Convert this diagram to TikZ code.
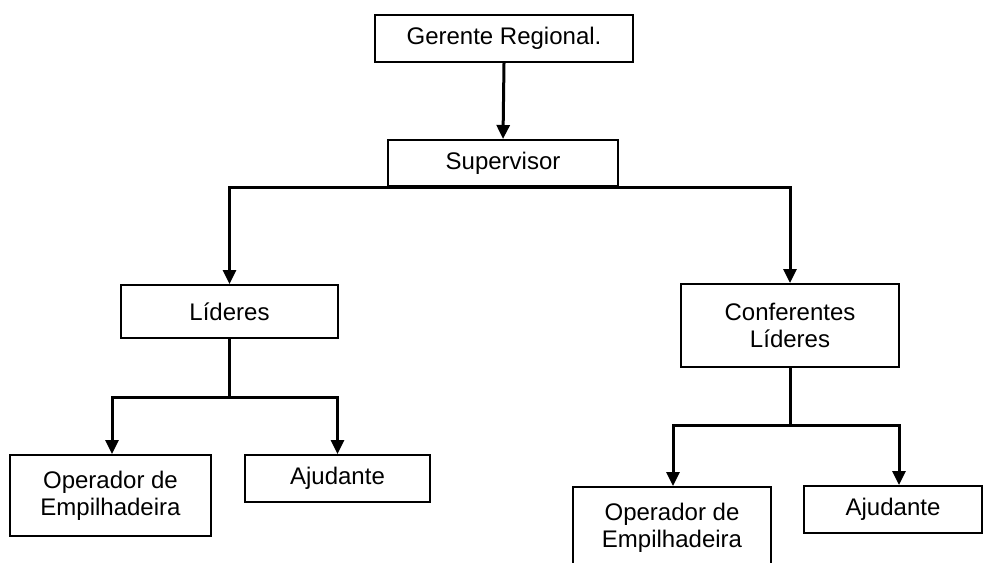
\documentclass[tikz,border=0pt]{standalone}
\usepackage{fontspec}
\setmainfont{Liberation Sans}
\usetikzlibrary{arrows.meta}
\begin{document}
\begin{tikzpicture}[x=0.5pt,y=-0.5pt,
  box/.style={draw=black,line width=1pt,fill=white,align=center,inner sep=0pt,
    font=\fontsize{12pt}{13.5pt}\selectfont},
  link/.style={line width=1.5pt},
  arr/.style={line width=1.5pt,-{Triangle[width=6.5pt,length=7pt]}}]
\clip (0,0) rectangle (984,562);
\fill[white] (0,0) rectangle (984,562);
\node[box,minimum width=129pt,minimum height=23.5pt] (ger) at (504,38.5) {Gerente Regional.};
\node[box,minimum width=115pt,minimum height=23pt] (sup) at (503,163) {Supervisor};
\node[box,minimum width=108.5pt,minimum height=26.5pt] (lid) at (229.5,311.5) {Líderes};
\node[box,minimum width=109pt,minimum height=41.5pt] (conf) at (790,325.5) {Conferentes\\Líderes};
\node[box,minimum width=100.5pt,minimum height=40.5pt] (op1) at (110.5,495.5) {Operador de\\Empilhadeira};
\node[box,minimum width=92.5pt,minimum height=23.5pt] (aj1) at (337.5,478.5) {Ajudante};
\node[box,minimum width=99pt,minimum height=40.5pt] (op2) at (672,527.5) {Operador de\\Empilhadeira};
\node[box,minimum width=89pt,minimum height=23.5pt] (aj2) at (893,509.5) {Ajudante};
\coordinate (j1) at (229.5,397);
\coordinate (j2) at (790,425);
\draw[arr] (ger.south) -- (sup.north);
\draw[arr] (sup.south) -| (lid.north);
\draw[arr] (sup.south) -| (conf.north);
\draw[link] (lid.south) -- (j1);
\draw[arr] (j1) -| ([xshift=0.75pt]op1.north);
\draw[arr] (j1) -| (aj1.north);
\draw[link] (conf.south) -- (j2);
\draw[arr] (j2) -| ([xshift=0.5pt]op2.north);
\draw[arr] (j2) -| ([xshift=3pt]aj2.north);
\end{tikzpicture}
\end{document}
